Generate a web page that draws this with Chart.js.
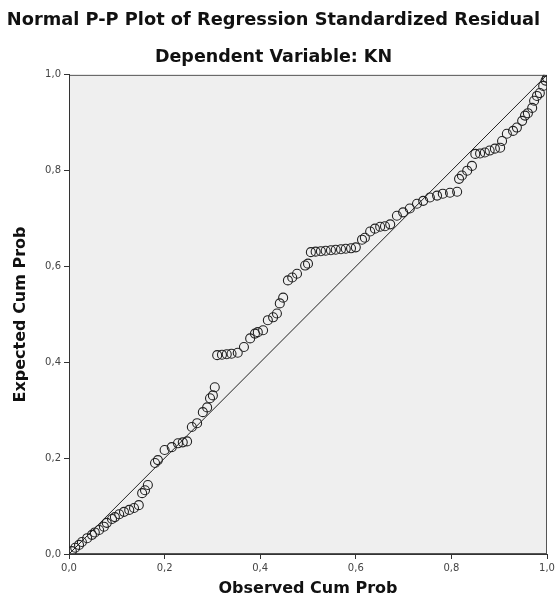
<!DOCTYPE html>
<html>
<head>
<meta charset="utf-8">
<script src="https://cdn.jsdelivr.net/npm/chart.js@4/dist/chart.umd.min.js"></script>
<style>
html,body{margin:0;padding:0;background:#fff;}
#wrap{width:558px;height:614px;}
</style>
</head>
<body>
<div id="wrap"><canvas id="c" width="558" height="614"></canvas></div>
<script>
const chartTitle = "Normal P-P Plot of Regression Standardized Residual";
const chartSubtitle = "Dependent Variable: KN";
const xAxisTitle = "Observed Cum Prob";
const yAxisTitle = "Expected Cum Prob";
const tickValues = [0, 0.2, 0.4, 0.6, 0.8, 1.0];
const tickLabels = ["0,0", "0,2", "0,4", "0,6", "0,8", "1,0"];

const observed = [
  0.006, 0.013, 0.021, 0.027, 0.038, 0.048, 0.054, 0.063, 0.073, 0.079,
  0.090, 0.096, 0.105, 0.115, 0.126, 0.136, 0.146, 0.153, 0.159, 0.165,
  0.180, 0.186, 0.200, 0.215, 0.228, 0.238, 0.247, 0.257, 0.268, 0.280,
  0.289, 0.295, 0.301, 0.305, 0.310, 0.320, 0.330, 0.340, 0.353, 0.366,
  0.379, 0.389, 0.395, 0.406, 0.416, 0.427, 0.435, 0.441, 0.448, 0.458,
  0.467, 0.477, 0.494, 0.500, 0.506, 0.516, 0.527, 0.537, 0.548, 0.558,
  0.569, 0.579, 0.590, 0.600, 0.613, 0.619, 0.630, 0.640, 0.651, 0.661,
  0.672, 0.686, 0.699, 0.713, 0.728, 0.741, 0.755, 0.770, 0.782, 0.797,
  0.812, 0.816, 0.822, 0.833, 0.843, 0.850, 0.860, 0.870, 0.880, 0.891,
  0.902, 0.906, 0.916, 0.929, 0.937, 0.948, 0.954, 0.960, 0.969, 0.973,
  0.979, 0.985, 0.992, 0.997, 1.000
];
const expected = [
  0.006, 0.013, 0.019, 0.025, 0.033, 0.040, 0.045, 0.050, 0.057, 0.065,
  0.073, 0.077, 0.083, 0.088, 0.092, 0.096, 0.102, 0.127, 0.133, 0.144,
  0.190, 0.196, 0.217, 0.223, 0.231, 0.233, 0.235, 0.265, 0.273, 0.296,
  0.306, 0.325, 0.331, 0.348, 0.415, 0.416, 0.417, 0.418, 0.420, 0.432,
  0.450, 0.460, 0.463, 0.467, 0.488, 0.494, 0.502, 0.523, 0.535, 0.571,
  0.577, 0.585, 0.602, 0.606, 0.630, 0.631, 0.632, 0.633, 0.634, 0.635,
  0.636, 0.637, 0.638, 0.640, 0.656, 0.660, 0.673, 0.679, 0.683, 0.684,
  0.688, 0.706, 0.713, 0.721, 0.731, 0.737, 0.744, 0.748, 0.752, 0.754,
  0.756, 0.783, 0.790, 0.800, 0.810, 0.835, 0.836, 0.838, 0.842, 0.846,
  0.848, 0.862, 0.877, 0.883, 0.890, 0.904, 0.915, 0.920, 0.931, 0.946,
  0.956, 0.962, 0.977, 0.988, 0.994
];
const diagonal = [0, 1];

const points = observed.map((x, i) => ({x: x, y: expected[i]}));
const diagPoints = diagonal.map(v => ({x: v, y: v}));

const plotBg = {
  id: 'plotBg',
  beforeDraw(chart) {
    const {ctx, chartArea: a} = chart;
    ctx.save();
    ctx.fillStyle = '#ffffff';
    ctx.fillRect(0, 0, chart.width, chart.height);
    ctx.fillStyle = '#efefef';
    ctx.fillRect(a.left, a.top, a.right - a.left, a.bottom - a.top);
    ctx.strokeStyle = '#555';
    ctx.lineWidth = 1;
    ctx.strokeRect(a.left + 0.5, a.top + 0.5, a.right - a.left - 1, a.bottom - a.top - 1);
    ctx.restore();
  }
};

const tickFont = {family: 'DejaVu Sans', size: 10};
function tickCb(value) {
  const i = tickValues.findIndex(t => Math.abs(t - value) < 1e-6);
  return i >= 0 ? tickLabels[i] : '';
}

new Chart(document.getElementById('c'), {
  type: 'scatter',
  data: {
    datasets: [
      {
        data: diagPoints,
        showLine: true,
        borderColor: '#222',
        borderWidth: 1,
        pointRadius: 0,
        fill: false
      },
      {
        data: points,
        showLine: false,
        pointStyle: 'circle',
        pointRadius: 4.5,
        borderColor: '#222',
        borderWidth: 1.1,
        backgroundColor: 'rgba(0,0,0,0)'
      }
    ]
  },
  options: {
    responsive: false,
    animation: false,
    devicePixelRatio: 1,
    layout: {padding: {left: 0, right: 11, top: 0, bottom: 0}},
    plugins: {
      legend: {display: false},
      tooltip: {enabled: false},
      title: {
        display: true,
        text: chartTitle,
        color: '#111',
        font: {family: 'DejaVu Sans', size: 17.8, weight: 'bold', lineHeight: 1.2},
        padding: {top: 9.5, bottom: 6}
      },
      subtitle: {
        display: true,
        text: chartSubtitle,
        color: '#111',
        font: {family: 'DejaVu Sans', size: 17.5, weight: 'bold', lineHeight: 1.2},
        padding: {top: 10.5, bottom: 6.5}
      }
    },
    scales: {
      x: {
        type: 'linear',
        min: 0, max: 1,
        afterFit(s) { s.height = 60; },
        afterBuildTicks(s) { s.ticks = tickValues.map(v => ({value: v})); },
        ticks: {callback: tickCb, font: tickFont, color: '#444', padding: 3, maxRotation: 0},
        grid: {display: true, drawOnChartArea: false, drawTicks: true, tickLength: 5, color: '#333'},
        border: {display: true, color: '#333', width: 1},
        title: {
          display: true, text: xAxisTitle, color: '#111',
          font: {family: 'DejaVu Sans', size: 16, weight: 'bold', lineHeight: 1.2},
          padding: {top: 0, bottom: 16}
        }
      },
      y: {
        type: 'linear',
        min: 0, max: 1,
        afterFit(s) { s.width = 69; },
        afterBuildTicks(s) { s.ticks = tickValues.map(v => ({value: v})); },
        ticks: {callback: tickCb, font: tickFont, color: '#444', padding: 3},
        grid: {display: true, drawOnChartArea: false, drawTicks: true, tickLength: 5, color: '#333'},
        border: {display: true, color: '#333', width: 1},
        title: {
          display: true, text: yAxisTitle, color: '#111',
          font: {family: 'DejaVu Sans', size: 16, weight: 'bold', lineHeight: 1.2},
          padding: {top: 11, bottom: 0}
        }
      }
    }
  },
  plugins: [plotBg]
});
</script>
</body>
</html>
